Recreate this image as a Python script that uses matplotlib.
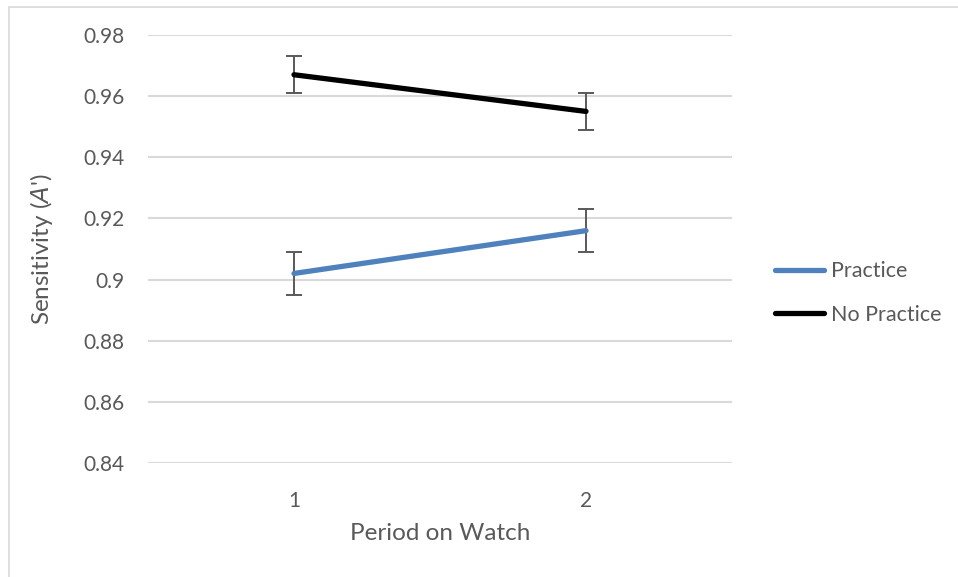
import matplotlib
matplotlib.use("Agg")
import matplotlib.pyplot as plt
from matplotlib.patches import Rectangle

# Sensitivity (A') by period on watch
periods = [1, 2]
period_labels = ["1", "2"]
practice = [0.902, 0.916]
practice_err = [0.007, 0.007]
no_practice = [0.967, 0.955]
no_practice_err = [0.006, 0.006]
y_ticks = [0.84, 0.86, 0.88, 0.90, 0.92, 0.94, 0.96, 0.98]
y_tick_labels = ["0.84", "0.86", "0.88", "0.9", "0.92", "0.94", "0.96", "0.98"]

plt.rcParams["font.family"] = ["Lato", "DejaVu Sans"]
TEXT = "#595959"
GRID = "#d9d9d9"

W, H = 958, 577
fig = plt.figure(figsize=(W / 100, H / 100), dpi=100)

# light chart-area frame (top and left edges visible)
fig.patches.append(Rectangle((8.5 / W, -0.1), 2.0, 1 - 6.5 / H + 0.1,
                             transform=fig.transFigure, fill=False,
                             edgecolor=GRID, linewidth=1.2, zorder=0))

ax = fig.add_axes([148 / W, 1 - 463 / H, (732 - 148) / W, (463 - 35) / H])
ax.set_xlim(0.5, 2.5)
ax.set_ylim(0.84, 0.98)

ax.set_yticks(y_ticks)
ax.set_yticklabels(y_tick_labels)
ax.set_xticks(periods)
ax.set_xticklabels(period_labels)
ax.yaxis.grid(True, color=GRID, linewidth=1.5)
ax.set_axisbelow(True)
for s in ax.spines.values():
    s.set_visible(False)
ax.tick_params(axis="both", length=0, colors=TEXT, labelsize=15)
ax.tick_params(axis="y", pad=17)
ax.tick_params(axis="x", pad=20)

ax.plot(periods, practice, color="#4f81bd", linewidth=3.8,
        solid_capstyle="round", label="Practice", zorder=3)
ax.errorbar(periods, practice, yerr=practice_err, fmt="none",
            ecolor=TEXT, elinewidth=1.4, capsize=6, capthick=1.4, zorder=2)
ax.plot(periods, no_practice, color="#000000", linewidth=3.8,
        solid_capstyle="round", label="No Practice", zorder=3)
ax.errorbar(periods, no_practice, yerr=no_practice_err, fmt="none",
            ecolor=TEXT, elinewidth=1.4, capsize=6, capthick=1.4, zorder=2)

ax.set_xlabel("Period on Watch", color=TEXT, fontsize=17.5, labelpad=9)
ax.set_ylabel("Sensitivity ($\\mathit{A}$')", color=TEXT, fontsize=17.5, labelpad=20)

leg = fig.legend(loc="center left", bbox_to_anchor=(766 / W, 1 - 293 / H),
                 frameon=False, fontsize=15.5, handlelength=2.3,
                 handletextpad=0.3, labelspacing=1.1, borderaxespad=0)
for t in leg.get_texts():
    t.set_color(TEXT)

fig.savefig("out.png", dpi=100)
